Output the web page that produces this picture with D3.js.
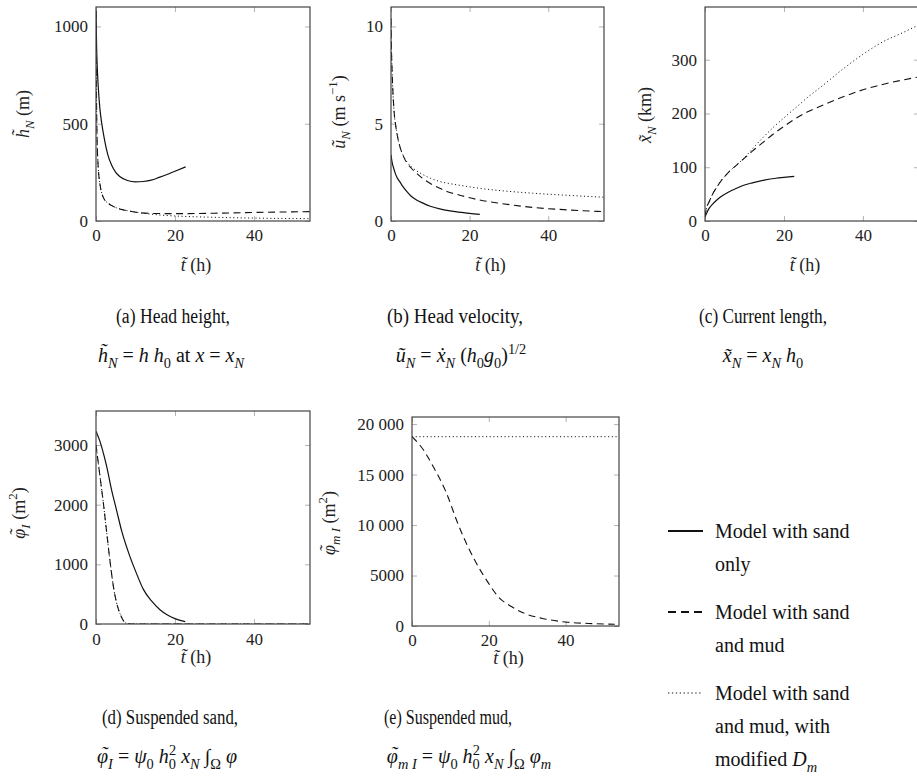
<!DOCTYPE html>
<html><head><meta charset="utf-8">
<script src="https://cdn.jsdelivr.net/npm/d3@7"></script>
<style>
html,body{margin:0;padding:0;background:#fff;}
svg{display:block;}
</style></head>
<body>
<script>
// ---------------- DATA ----------------
const xTicks = [0, 20, 40];
const yTicksA = [0, 500, 1000];
const yTicksB = [0, 5, 10];
const yTicksC = [0, 100, 200, 300];
const yTicksD = [0, 1000, 2000, 3000];
const yTicksE = [0, 5000, 10000, 15000, 20000];
const yTickLabelsE = ["0", "5000", "10 000", "15 000", "20 000"];

// (a) head height (m) vs t (h)
const headHeightSand = [[0,1080],[0.15,900],[0.3,800],[0.6,680],[1,575],[1.5,495],[2,435],[3,340],[4,285],[5,250],[6,229],[8,208],[10,201],[12,203],[14,210],[16,224],[18,239],[20,256],[22.7,278]];
const headHeightMud = [[0,1080],[0.1,700],[0.25,450],[0.5,300],[1,190],[1.5,140],[2,115],[3,92],[4,79],[5,69],[7,57],[9,49],[11,43],[14,39],[18,38],[22,38],[30,40],[40,44],[54.2,48]];
const headHeightMudDm = [[0,1080],[0.1,700],[0.25,450],[0.5,300],[1,190],[1.5,140],[2,115],[3,92],[4,79],[5,69],[7,57],[9,49],[11,42],[14,35],[18,28],[22,24],[30,19],[40,15],[54.2,12]];

// (b) head velocity (m/s)
const headVelSand = [[0,3.4],[0.3,3.0],[0.7,2.7],[1,2.5],[1.5,2.25],[2.3,2.0],[3,1.78],[4,1.52],[5,1.3],[6.5,1.08],[8,0.93],[10,0.76],[12.4,0.62],[15,0.52],[18,0.44],[20,0.39],[22.6,0.34]];
const headVelMud = [[0,10.4],[0.1,9],[0.3,7.6],[0.76,5.7],[1.2,4.9],[1.7,4.3],[2.3,3.8],[3,3.4],[4,3.0],[5,2.75],[6.5,2.46],[8,2.2],[10,1.93],[12.4,1.68],[15,1.47],[18,1.3],[22.5,1.08],[28,0.9],[36,0.7],[45,0.57],[54.2,0.48]];
const headVelMudDm = [[0,10.4],[0.1,9],[0.3,7.6],[0.76,5.7],[1.2,4.9],[1.7,4.3],[2.3,3.8],[3,3.42],[4,3.05],[5,2.82],[6.5,2.58],[8,2.4],[10,2.2],[12.4,2.03],[15,1.92],[18,1.82],[22.5,1.68],[28,1.56],[36,1.43],[45,1.32],[54.2,1.22]];

// (c) current length (km)
const lengthSand = [[0,8],[0.5,16],[1,23],[2,32],[3,39],[4,45],[6,54],[8,61],[10,67],[12,71],[15,76],[18,79.5],[20,81],[22.6,83]];
const lengthMud = [[0,8],[0.25,20],[0.5,27],[1,35],[2,51],[3,63],[4,74],[5,83],[6,91],[8,104],[10,117],[12,130],[14,142],[17,160],[20,176],[22.4,188],[26,203],[30,216],[35,231],[40,244],[45,254],[50,262],[54.2,268]];
const lengthMudDm = [[0,8],[0.25,20],[0.5,27],[1,35],[2,51],[3,63],[4,74],[5,83],[6,91],[8,104],[10,118],[12,134],[14,150],[17,172],[20,192],[22.4,207],[26,230],[30,253],[35,283],[40,310],[45,333],[50,350],[54.2,365]];

// (d) suspended sand (m^2)
const sandSand = [[0,3230],[1,3060],[2,2830],[2.7,2640],[4,2230],[5.2,1910],[6.5,1560],[8.6,1130],[10,890],[12,580],[14,390],[16.2,240],[18,155],[20,90],[22.6,40]];
const sandMud = [[0,3000],[1,2480],[2,1950],[2.7,1540],[3.5,1080],[4.4,630],[5.2,360],[6.1,170],[7,50],[8,5],[10,0],[20,0],[30,0],[40,0],[54.2,0]];
const sandMudDm = [[0,3000],[1,2480],[2,1950],[2.7,1540],[3.5,1080],[4.4,630],[5.2,360],[6.1,170],[7,50],[8,5],[10,0],[20,0],[30,0],[40,0],[54.2,0]];

// (e) suspended mud (m^2)
const mudMud = [[0,18750],[3,17430],[5.5,15800],[8.65,13460],[12.1,9990],[14.5,7900],[17.3,5850],[20,4200],[22.5,2880],[26,1900],[29.4,1230],[34,750],[39.8,400],[46,250],[52.8,170]];
const mudMudDm = [[0,18750],[20,18750],[40,18750],[53.3,18750]];

const legendLabels = [["Model with sand","only"],["Model with sand","and mud"],["Model with sand","and mud, with","modified "]];

// ---------------- FONT PICK ----------------
function pickFont(cands) {
  const c = document.createElement("canvas").getContext("2d");
  const s = "abcdefghijklmnopqrstuvwxyzABCDEFGHIJKLMNOPQRSTUVWXYZ0123456789";
  const gens = ["monospace", "sans-serif", "serif"];
  const base = gens.map(f => { c.font = "40px " + f; return c.measureText(s).width; });
  for (const f of cands) {
    const ws = gens.map(b => { c.font = `40px "${f}", ${b}`; return c.measureText(s).width; });
    if (ws.some((w, i) => Math.abs(w - base[i]) > 0.3)) return f;
  }
  return null;
}
const found = pickFont(["Liberation Serif", "DejaVu Serif", "Tinos", "Times New Roman", "Times", "Noto Serif",
  "FreeSerif", "Nimbus Roman", "TeX Gyre Termes", "STIX Two Text", "Latin Modern Roman", "CMU Serif", "Georgia"]);
const SERIF = found ? `"${found}", serif` : "serif";

// ---------------- DRAWING ----------------
const W = 917, H = 776;
const svg = d3.select("body").append("svg").attr("width", W).attr("height", H)
  .style("font-family", SERIF);
svg.append("rect").attr("width", W).attr("height", H).attr("fill", "#fff");
const defs = svg.append("defs");

const styles = {
  solid: {dash: null, w: 1.2},
  dashed: {dash: "7,4.5", w: 1.1},
  dotted: {dash: "1.1,2.6", w: 1.0}
};

const TIL = "\u0303";
// math text: sub/sup via dy; "acc" places a spacing tilde over the letter inside the same tspan
function mathText(sel, parts, fs) {
  let shift = 0;
  let carryDx = 0;
  parts.forEach(p => {
    const ts = sel.append("tspan");
    let target = 0, size = fs;
    if (p.sub) { target = fs * 0.3; size = fs * 0.72; }
    if (p.sup) { target = -fs * 0.42; size = fs * 0.72; }
    ts.attr("font-size", size);
    if (p.i) ts.attr("font-style", "italic");
    const baseDy = target - shift;
    const baseDx = (p.dx || 0) + carryDx;
    carryDx = 0;
    if (p.acc !== undefined) {
      ts.text(p.t + "\u02DC");
      const n = ts.node();
      const wL = n.getSubStringLength(0, 1);
      const wA = n.getSubStringLength(1, 1);
      const skew = p.i ? fs * 0.07 : 0;
      const dxA = -(wL + wA) / 2 + skew;
      const accDy = -fs * p.acc;
      ts.attr("dx", `${baseDx.toFixed(2)} ${dxA.toFixed(2)}`)
        .attr("dy", `${baseDy.toFixed(2)} ${accDy.toFixed(2)}`);
      shift = target + accDy;
      carryDx = -(dxA + wA);
    } else {
      ts.text(p.t);
      ts.attr("dy", baseDy.toFixed(2));
      if (baseDx) ts.attr("dx", baseDx.toFixed(2));
      shift = target;
    }
  });
}

function drawPanel(p) {
  const x = d3.scaleLinear().domain([0, p.xMax]).range([p.left, p.left + p.w]);
  const y = d3.scaleLinear().domain([0, p.yMax]).range([p.top + p.h, p.top]);
  const g = svg.append("g");
  const cid = "clip-" + p.name;
  defs.append("clipPath").attr("id", cid).append("rect")
    .attr("x", p.left).attr("y", p.top).attr("width", p.w).attr("height", p.h);

  const tickCol = "#aaa";
  const styleAxis = (ax) => {
    ax.attr("font-family", null).style("font-family", SERIF);
    ax.select(".domain").remove();
    ax.selectAll(".tick line").attr("stroke", tickCol).attr("stroke-width", 0.9);
    ax.selectAll(".tick text").attr("fill", "#222").attr("font-size", 17);
  };
  const bx = g.append("g").attr("transform", `translate(0,${p.top + p.h})`)
    .call(d3.axisBottom(x).tickValues(xTicks).tickSize(-5).tickPadding(p.xPad).tickFormat(d3.format("d")));
  styleAxis(bx);
  const tx = g.append("g").attr("transform", `translate(0,${p.top})`)
    .call(d3.axisTop(x).tickValues(xTicks).tickSize(-5).tickFormat(""));
  styleAxis(tx);
  const ly = g.append("g").attr("transform", `translate(${p.left},0)`)
    .call(d3.axisLeft(y).tickValues(p.yTicks).tickSize(-5).tickPadding(8)
      .tickFormat((d, i) => p.yLabels ? p.yLabels[i] : String(d)));
  styleAxis(ly);
  const ry = g.append("g").attr("transform", `translate(${p.left + p.w},0)`)
    .call(d3.axisRight(y).tickValues(p.yTicks).tickSize(-5).tickFormat(""));
  styleAxis(ry);

  const line = d3.line().x(d => x(d[0])).y(d => y(d[1])).curve(d3.curveMonotoneX);
  const lg = g.append("g").attr("clip-path", `url(#${cid})`);
  p.series.forEach(s => {
    const st = styles[s.style];
    lg.append("path").datum(s.data).attr("d", line)
      .attr("fill", "none").attr("stroke", "#111").attr("stroke-width", st.w)
      .attr("stroke-dasharray", st.dash);
  });

  g.append("rect").attr("x", p.left).attr("y", p.top).attr("width", p.w).attr("height", p.h)
    .attr("fill", "none").attr("stroke", "#444").attr("stroke-width", 1.2);

  // x label
  const xl = g.append("text").attr("x", p.left + p.w / 2 - 7).attr("y", p.xLabelY)
    .attr("text-anchor", "middle").attr("font-size", 18).attr("fill", "#222");
  mathText(xl, [{t: "t" + TIL, i: true}, {t: " (h)"}], 18);
  // y label
  const yl = g.append("text").attr("transform", `translate(${p.yLabelX},${p.yLabelY}) rotate(-90)`)
    .attr("text-anchor", "middle").attr("font-size", 18).attr("fill", "#222");
  mathText(yl, p.yLabel, 18);

  // caption
  svg.append("text").attr("x", p.capX).attr("y", p.capY).attr("text-anchor", "middle")
    .attr("font-size", 20).attr("fill", "#111")
    .attr("textLength", p.capW).attr("lengthAdjust", "spacingAndGlyphs").text(p.title);
  const c2 = svg.append("text").attr("x", p.fmX).attr("y", p.capY + 39).attr("text-anchor", "middle")
    .attr("font-size", 20).attr("fill", "#111");
  mathText(c2, p.formula, 20);
}

const PHI = "\u03C6";
drawPanel({name: "a", left: 96, top: 7, w: 214, h: 214, xMax: 54.2, yMax: 1100, yTicks: yTicksA, xPad: 8,
  xLabelY: 271, yLabelX: 29, yLabelY: 114,
  yLabel: [{t: "h" + TIL, i: true}, {t: "N", i: true, sub: true}, {t: " (m)"}],
  series: [{data: headHeightSand, style: "solid"}, {data: headHeightMud, style: "dashed"}, {data: headHeightMudDm, style: "dotted"}],
  capX: 173, capW: 114, fmX: 171, capY: 323, title: "(a) Head height,",
  formula: [{t: "h" + TIL, i: true}, {t: "N", i: true, sub: true}, {t: " = "}, {t: "h", i: true}, {t: " "}, {t: "h", i: true}, {t: "0", sub: true}, {t: " at "}, {t: "x", i: true}, {t: " = "}, {t: "x", i: true}, {t: "N", i: true, sub: true}]
});

drawPanel({name: "b", left: 391, top: 7, w: 213, h: 214, xMax: 54.2, yMax: 11, yTicks: yTicksB, xPad: 8,
  xLabelY: 271, yLabelX: 345, yLabelY: 112,
  yLabel: [{t: "u" + TIL, i: true}, {t: "N", i: true, sub: true}, {t: " (m s"}, {t: "\u22121", sup: true}, {t: ")"}],
  series: [{data: headVelSand, style: "solid"}, {data: headVelMud, style: "dashed"}, {data: headVelMudDm, style: "dotted"}],
  capX: 455, capW: 136, fmX: 461, capY: 323, title: "(b) Head velocity,",
  formula: [{t: "u" + TIL, i: true}, {t: "N", i: true, sub: true}, {t: " = "}, {t: "x\u0307", i: true}, {t: "N", i: true, sub: true}, {t: " ("}, {t: "h", i: true}, {t: "0", sub: true}, {t: "g", i: true}, {t: "0", sub: true}, {t: ")"}, {t: "1/2", sup: true}]
});

drawPanel({name: "c", left: 705, top: 7, w: 214, h: 214, xMax: 54.2, yMax: 398, yTicks: yTicksC, xPad: 8,
  xLabelY: 271, yLabelX: 651, yLabelY: 115,
  yLabel: [{t: "x" + TIL, i: true}, {t: "N", i: true, sub: true}, {t: " (km)"}],
  series: [{data: lengthSand, style: "solid"}, {data: lengthMud, style: "dashed"}, {data: lengthMudDm, style: "dotted"}],
  capX: 763, capW: 128, fmX: 763, capY: 323, title: "(c) Current length,",
  formula: [{t: "x" + TIL, i: true}, {t: "N", i: true, sub: true}, {t: " = "}, {t: "x", i: true}, {t: "N", i: true, sub: true}, {t: " "}, {t: "h", i: true}, {t: "0", sub: true}]
});

drawPanel({name: "d", left: 96, top: 411, w: 214, h: 213, xMax: 54.2, yMax: 3570, yTicks: yTicksD, xPad: 9,
  xLabelY: 663, yLabelX: 25, yLabelY: 513,
  yLabel: [{t: PHI, i: true, acc: 0.12}, {t: "I", i: true, sub: true}, {t: " (m"}, {t: "2", sup: true}, {t: ")"}],
  series: [{data: sandSand, style: "solid"}, {data: sandMud, style: "dashed"}, {data: sandMudDm, style: "dotted"}],
  capX: 170, capW: 136, fmX: 167, capY: 724, title: "(d) Suspended sand,",
  formula: [{t: PHI, i: true, acc: 0.12}, {t: "I", i: true, sub: true}, {t: " = "}, {t: "\u03C8", i: true}, {t: "0", sub: true}, {t: " "}, {t: "h", i: true}, {t: "0", sub: true}, {t: "2", sup: true, dx: -7}, {t: " "}, {t: "x", i: true}, {t: "N", i: true, sub: true}, {t: " \u222B"}, {t: "\u03A9", sub: true}, {t: " "}, {t: PHI, i: true}]
});

drawPanel({name: "e", left: 412, top: 417, w: 207, h: 209, xMax: 53.9, yMax: 20700, yTicks: yTicksE, yLabels: yTickLabelsE, xPad: 8,
  xLabelY: 664, yLabelX: 335, yLabelY: 523,
  yLabel: [{t: PHI, i: true, acc: 0.12}, {t: "m I", i: true, sub: true}, {t: " (m"}, {t: "2", sup: true}, {t: ")"}],
  series: [{data: mudMud, style: "dashed"}, {data: mudMudDm, style: "dotted"}],
  capX: 448, capW: 128, fmX: 469, capY: 724, title: "(e) Suspended mud,",
  formula: [{t: PHI, i: true, acc: 0.12}, {t: "m I", i: true, sub: true}, {t: " = "}, {t: "\u03C8", i: true}, {t: "0", sub: true}, {t: " "}, {t: "h", i: true}, {t: "0", sub: true}, {t: "2", sup: true, dx: -7}, {t: " "}, {t: "x", i: true}, {t: "N", i: true, sub: true}, {t: " \u222B"}, {t: "\u03A9", sub: true}, {t: " "}, {t: PHI, i: true}, {t: "m", i: true, sub: true}]
});

// ---------------- LEGEND ----------------
const legendY = [538, 619, 700];
const lineH = 33;
legendLabels.forEach((lines, k) => {
  const yy = legendY[k];
  svg.append("line").attr("x1", 668).attr("x2", 703).attr("y1", yy - 7).attr("y2", yy - 7)
    .attr("stroke", "#111").attr("stroke-width", k === 2 ? 1.2 : 2)
    .attr("stroke-dasharray", k === 1 ? "8,5" : (k === 2 ? "1.3,2.6" : null));
  lines.forEach((txt, j) => {
    const t = svg.append("text").attr("x", 715).attr("y", yy + j * lineH)
      .attr("font-size", 20).attr("fill", "#111");
    if (k === 2 && j === 2) {
      mathText(t, [{t: "modified "}, {t: "D", i: true}, {t: "m", i: true, sub: true}], 20);
    } else {
      t.text(txt);
    }
  });
});
</script>
</body></html>
